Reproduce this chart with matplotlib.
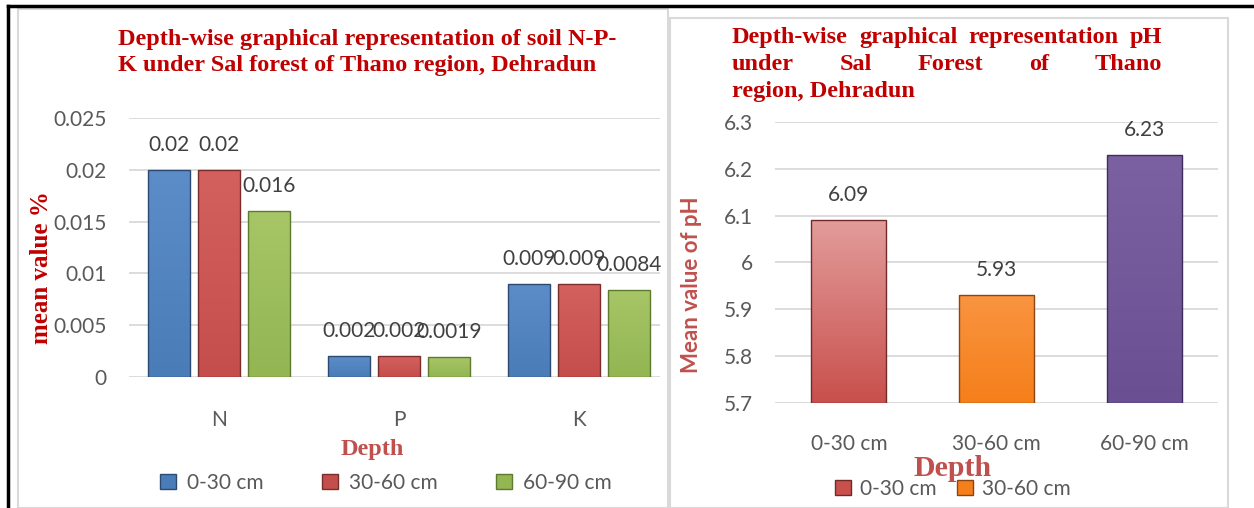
import numpy as np
import matplotlib
matplotlib.use("Agg")
from matplotlib import pyplot as plt
from matplotlib.patches import Patch, Rectangle
from matplotlib.lines import Line2D

# data
nutrients = ["N", "P", "K"]
depths = ["0-30 cm", "30-60 cm", "60-90 cm"]
npk_0_30 = [0.02, 0.002, 0.009]
npk_30_60 = [0.02, 0.002, 0.009]
npk_60_90 = [0.016, 0.0019, 0.0084]
ph_values = [6.09, 5.93, 6.23]

W, H = 1254, 508
SANS = "Lato"
SERIF = "Liberation Serif"
DARKRED = "#C00000"
SOFTRED = "#C0504D"
TICK = "#595959"
LABEL = "#404040"
GRID = "#D9D9D9"

npk_colors = ["#4A7CB8", "#C44E4B", "#93B552"]
npk_edges = ["#2C4A70", "#7A2E2C", "#5E7A2E"]
npk_tops = ["#5C8DC8", "#D4615E", "#A7C667"]
ph_colors = ["#C9504D", "#F57F1A", "#6A4F92"]
ph_edges = ["#6E2B2A", "#8A4510", "#3E2D5A"]
ph_tops = ["#E29C9A", "#F99440", "#7C61A2"]


def fx(x):
    return x / W


def fy(y):
    return 1 - y / H


def gradient_bars(ax, bars, tops, bottoms):
    # vertical colour ramp clipped to each bar
    for b, c0, c1 in zip(bars, tops, bottoms):
        x0, y0 = b.get_x(), b.get_y()
        w, h = b.get_width(), b.get_height()
        a = np.array(matplotlib.colors.to_rgb(c0))
        z = np.array(matplotlib.colors.to_rgb(c1))
        t = np.linspace(0, 1, 64)[:, None]
        img = (a * (1 - t) + z * t)[:, None, :]
        im = ax.imshow(img, extent=[x0, x0 + w, y0, y0 + h], origin="upper",
                       aspect="auto", zorder=b.get_zorder() - 0.1,
                       interpolation="bilinear")
        im.set_clip_path(b)
        b.set_facecolor("none")


def justify(fig, words, x0, x1, y, **kw):
    r = fig.canvas.get_renderer()
    texts = [fig.text(0, fy(y), w, va="center", **kw) for w in words]
    widths = [t.get_window_extent(r).width for t in texts]
    gap = ((x1 - x0) - sum(widths)) / (len(words) - 1)
    x = x0
    for t, w in zip(texts, widths):
        t.set_x(fx(x))
        x += w + gap


fig = plt.figure(figsize=(W / 100, H / 100), dpi=100)
fig.patch.set_facecolor("white")

# frames
fig.add_artist(Rectangle((fx(18), 0), fx(650), fy(9), transform=fig.transFigure,
                         fill=False, ec="#D9D9D9", lw=1.5))
fig.add_artist(Rectangle((fx(670), 0), fx(558), fy(18), transform=fig.transFigure,
                         fill=False, ec="#D9D9D9", lw=1.5))
fig.add_artist(Line2D([fx(8), 1], [fy(6), fy(6)], color="black", lw=2.5, transform=fig.transFigure))
fig.add_artist(Line2D([fx(8), fx(8)], [fy(6), 0], color="black", lw=2.5, transform=fig.transFigure))

# ---------- left chart: N-P-K ----------
ax1 = fig.add_axes([fx(129), fy(377), fx(660 - 129), fy(118) - fy(377)])
x = np.arange(len(nutrients))
off = 0.278
bw = 0.233
series = [npk_0_30, npk_30_60, npk_60_90]
handles1 = []
for i, vals in enumerate(series):
    bars = ax1.bar(x + (i - 1) * off, vals, bw, color=npk_colors[i],
                   edgecolor=npk_edges[i], linewidth=1, zorder=3)
    gradient_bars(ax1, bars, [npk_tops[i]] * 3, [npk_colors[i]] * 3)
    for b, v in zip(bars, vals):
        ax1.annotate(f"{v:g}", (b.get_x() + b.get_width() / 2, v),
                     xytext=(0, 18), textcoords="offset points",
                     ha="center", va="center", fontsize=15, color=LABEL, family=SANS)
    handles1.append(Patch(facecolor=npk_colors[i], edgecolor=npk_edges[i]))

ax1.set_xlim(-0.5, 2.45)
ax1.set_ylim(0, 0.025)
ax1.set_yticks([0, 0.005, 0.01, 0.015, 0.02, 0.025])
ax1.set_yticklabels(["0", "0.005", "0.01", "0.015", "0.02", "0.025"])
ax1.set_xticks(x)
ax1.set_xticklabels(nutrients)
ax1.grid(axis="y", color=GRID, lw=1.3, zorder=0)
ax1.set_axisbelow(True)
for s in ax1.spines.values():
    s.set_visible(False)
ax1.tick_params(length=0, colors=TICK, labelsize=15)
ax1.tick_params(axis="y", pad=16)
ax1.tick_params(axis="x", pad=24)
for t in ax1.get_xticklabels() + ax1.get_yticklabels():
    t.set_family(SANS)
    t.set_color(TICK)

tkw = dict(family=SERIF, weight="bold", color=DARKRED, fontsize=17.5)
fig.text(fx(118), fy(40), "Depth-wise graphical representation of soil N-P-", va="center", **tkw)
fig.text(fx(118), fy(66), "K under Sal forest of Thano region, Dehradun", va="center", **tkw)
fig.text(fx(42), fy(268), "mean value %", rotation=90, ha="center", va="center",
         family=SERIF, weight="bold", color=DARKRED, fontsize=18)
fig.text(fx(372), fy(450), "Depth", ha="center", va="center",
         family=SERIF, weight="bold", color=SOFTRED, fontsize=17.5)
fig.legend(handles1, depths, loc="center", bbox_to_anchor=(fx(386), fy(483)),
           ncol=3, frameon=False, handlelength=0.75, handleheight=0.75,
           handletextpad=0.55, columnspacing=2.8,
           prop={"family": SANS, "size": 15}, labelcolor=TICK)

# ---------- right chart: pH ----------
ax2 = fig.add_axes([fx(775), fy(403), fx(1218 - 775), fy(122) - fy(403)])
xp = np.arange(len(depths))
bars2 = ax2.bar(xp, [v - 5.7 for v in ph_values], 0.51, bottom=5.7,
                color=ph_colors, edgecolor=ph_edges, linewidth=1, zorder=3)
gradient_bars(ax2, bars2, ph_tops, ph_colors)
for b, v in zip(bars2, ph_values):
    ax2.annotate(f"{v:g}", (b.get_x() + b.get_width() / 2, v),
                 xytext=(0, 18), textcoords="offset points",
                 ha="center", va="center", fontsize=15, color=LABEL, family=SANS)
ax2.set_xlim(-0.5, 2.5)
ax2.set_ylim(5.7, 6.3)
ax2.set_yticks([5.7, 5.8, 5.9, 6.0, 6.1, 6.2, 6.3])
ax2.set_yticklabels(["5.7", "5.8", "5.9", "6", "6.1", "6.2", "6.3"])
ax2.set_xticks(xp)
ax2.set_xticklabels(depths)
ax2.grid(axis="y", color=GRID, lw=1.3, zorder=0)
ax2.set_axisbelow(True)
for s in ax2.spines.values():
    s.set_visible(False)
ax2.tick_params(length=0, colors=TICK, labelsize=15)
ax2.tick_params(axis="y", pad=16)
ax2.tick_params(axis="x", pad=22)
for t in ax2.get_xticklabels() + ax2.get_yticklabels():
    t.set_family(SANS)
    t.set_color(TICK)

justify(fig, "Depth-wise graphical representation pH".split(), 732, 1162, 38, **tkw)
justify(fig, "under Sal Forest of Thano".split(), 732, 1162, 65, **tkw)
fig.text(fx(732), fy(92), "region, Dehradun", va="center", **tkw)
fig.text(fx(692), fy(285), "Mean value of pH", rotation=90, ha="center", va="center",
         family=SANS, weight="bold", color=SOFTRED, fontsize=16)
fig.text(fx(953), fy(468), "Depth", ha="center", va="center",
         family=SERIF, weight="bold", color=SOFTRED, fontsize=21.5)
handles2 = [Patch(facecolor=ph_colors[i], edgecolor=ph_edges[i]) for i in range(2)]
fig.legend(handles2, depths[:2], loc="center", bbox_to_anchor=(fx(953), fy(489)),
           ncol=2, frameon=False, handlelength=0.75, handleheight=0.75,
           handletextpad=0.45, columnspacing=1.0,
           prop={"family": SANS, "size": 15}, labelcolor=TICK)

fig.savefig("out.png", dpi=100)
